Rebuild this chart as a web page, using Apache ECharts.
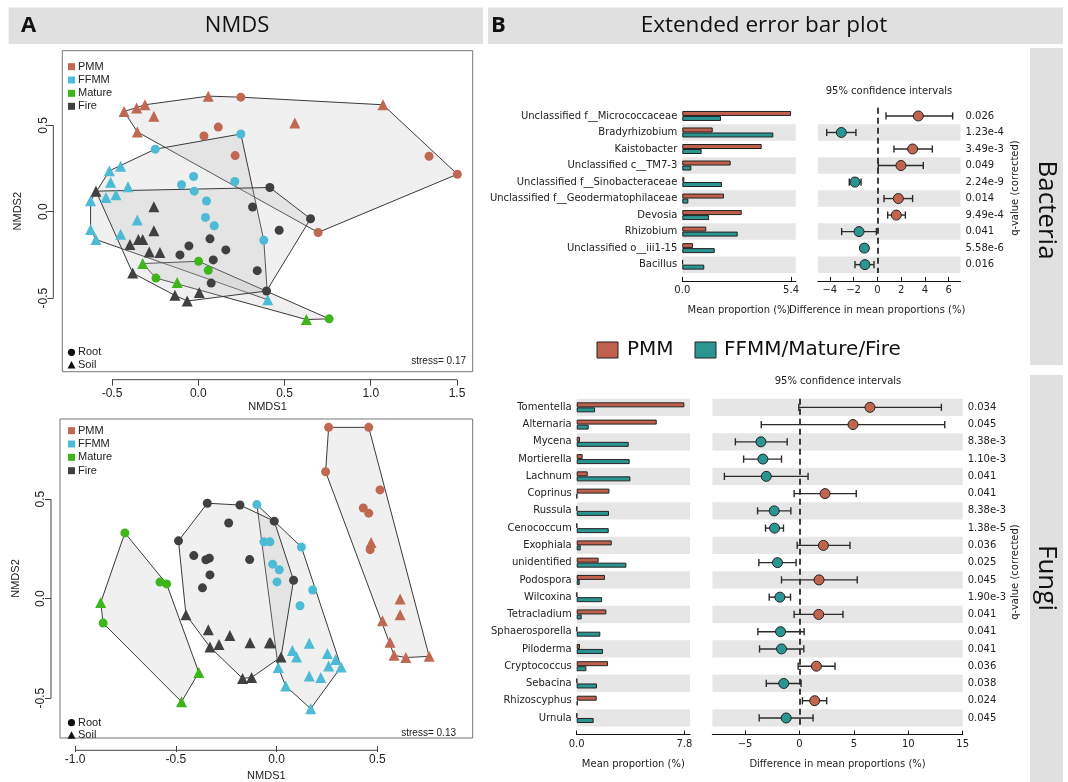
<!DOCTYPE html>
<html><head><meta charset="utf-8">
<script src="https://cdn.jsdelivr.net/npm/echarts@6/dist/echarts.min.js"></script>
<style>html,body{margin:0;padding:0;background:#fff}#c{width:1068px;height:782px}</style>
</head><body><div id="c"></div>
<script>
// ---------- NMDS data (top: bacteria, bottom: fungi) ----------
const topPMMRoot = [[0.247,0.663],[0.116,0.49],[0.033,0.438],[0.214,0.325],[1.338,0.321],[1.502,0.217],[0.695,-0.12]];
const topPMMSoil = [[-0.43,0.58],[-0.357,0.60],[-0.309,0.619],[-0.257,0.552],[-0.353,0.462],[0.058,0.669],[1.071,0.619],[0.56,0.513]];
const topFFMMRoot = [[0.247,0.45],[-0.249,0.362],[-0.027,0.204],[-0.097,0.156],[-0.023,0.119],[0.212,0.175],[0.048,0.062],[0.042,-0.033],[0.093,-0.081],[0.38,-0.165]];
const topFFMMSoil = [[-0.515,0.237],[-0.45,0.263],[-0.508,0.171],[-0.407,0.144],[-0.535,0.083],[-0.477,0.098],[-0.624,0.063],[-0.624,-0.103],[-0.353,-0.048],[-0.45,-0.13],[-0.593,-0.161],[0.403,-0.51]];
const topMatureRoot = [[0.002,-0.287],[0.058,-0.339],[-0.245,-0.384],[0.759,-0.62]];
const topMatureSoil = [[-0.322,-0.3],[-0.122,-0.409],[0.627,-0.624]];
const topFireRoot = [[0.415,0.14],[0.315,0.027],[0.651,-0.041],[0.469,-0.107],[0.068,-0.157],[-0.054,-0.198],[-0.106,-0.25],[0.16,-0.221],[0.087,-0.279],[0.342,-0.341],[0.075,-0.413],[0.396,-0.459]];
const topFireSoil = [[-0.593,0.119],[-0.257,0.029],[-0.257,-0.11],[-0.347,-0.161],[-0.322,-0.161],[-0.396,-0.19],[-0.284,-0.233],[-0.222,-0.236],[-0.38,-0.355],[-0.135,-0.484],[-0.064,-0.517],[0.006,-0.467]];

const botPMMRoot = [[0.258,0.86],[0.457,0.86],[0.243,0.637],[0.513,0.546],[0.43,0.455],[0.457,0.429],[0.464,0.246]];
const botPMMSoil = [[0.469,0.282],[0.613,-0.002],[0.613,-0.081],[0.525,-0.111],[0.563,-0.219],[0.583,-0.285],[0.641,-0.296],[0.757,-0.29]];
const botFFMMRoot = [[-0.098,0.472],[-0.063,0.285],[-0.033,0.285],[0.123,0.259],[-0.02,0.173],[0.013,0.145],[0.002,0.084],[0.179,0.043],[0.116,-0.036]];
const botFFMMSoil = [[0.078,-0.26],[0.099,-0.293],[0.162,-0.224],[0.252,-0.276],[0.293,-0.306],[0.32,-0.343],[0.258,-0.339],[0.162,-0.389],[0.219,-0.396],[0.008,-0.346],[0.045,-0.439],[0.169,-0.553]];
const botMatureRoot = [[-0.753,0.33],[-0.579,0.083],[-0.546,0.074],[-0.861,-0.123]];
const botMatureSoil = [[-0.873,-0.02],[-0.386,-0.371],[-0.472,-0.518]];
const botFireRoot = [[-0.344,0.479],[-0.182,0.47],[-0.012,0.389],[-0.238,0.38],[-0.487,0.29],[-0.411,0.216],[-0.351,0.195],[-0.334,0.203],[-0.134,0.196],[-0.331,0.119],[-0.368,0.054],[0.084,0.092]];
const botFireSoil = [[-0.45,-0.081],[-0.339,-0.156],[-0.331,-0.243],[-0.286,-0.23],[-0.232,-0.185],[-0.132,-0.222],[-0.036,-0.222],[-0.03,-0.222],[0.022,-0.293],[-0.169,-0.401],[-0.124,-0.396]];

const nmdsXTicksTop = [-0.5,0,0.5,1,1.5];
const nmdsXTicksBot = [-1,-0.5,0,0.5];
const nmdsYTicks = [-0.5,0,0.5];

// ---------- Extended error bar data ----------
const bacTaxa = ['Unclassified f__Micrococcaceae','Bradyrhizobium','Kaistobacter','Unclassified c__TM7-3','Unclassified f__Sinobacteraceae','Unclassified f__Geodermatophilaceae','Devosia','Rhizobium','Unclassified o__iii1-15','Bacillus'];
const bacPMM   = [5.4,1.51,3.94,2.40,0.10,2.07,2.95,1.19,0.53,0.03];
const bacOther = [1.92,4.52,0.96,0.45,1.97,0.30,1.33,2.75,1.61,1.09];
const bacDiff  = [3.45,-3.03,2.97,1.99,-1.88,1.77,1.60,-1.54,-1.09,-1.04];
const bacLo    = [0.73,-4.26,1.40,0.08,-2.36,0.56,0.87,-3.00,-1.37,-1.88];
const bacHi    = [6.34,-1.80,4.63,3.87,-1.37,2.97,2.36,-0.08,-0.81,-0.28];
const bacQ     = ['0.026','1.23e-4','3.49e-3','0.049','2.24e-9','0.014','9.49e-4','0.041','5.58e-6','0.016'];
const bacBarTicks = [0,5.4];
const bacErrTicks = [-4,-2,0,2,4,6];

const funTaxa = ['Tomentella','Alternaria','Mycena','Mortierella','Lachnum','Coprinus','Russula','Cenococcum','Exophiala','unidentified','Podospora','Wilcoxina','Tetracladium','Sphaerosporella','Piloderma','Cryptococcus','Sebacina','Rhizoscyphus','Urnula'];
const funPMM   = [7.8,5.8,0.24,0.43,0.80,2.37,0.02,0.02,2.54,1.59,2.05,0.02,2.15,0.02,0.24,2.27,0.02,1.45,0.02];
const funOther = [1.33,0.87,3.77,3.84,3.89,0.02,2.34,2.32,0.29,3.60,0.22,1.84,0.36,1.71,1.91,0.70,1.47,0.07,1.23];
const funDiff  = [6.48,4.92,-3.54,-3.36,-3.05,2.35,-2.32,-2.29,2.20,-2.02,1.80,-1.80,1.77,-1.74,-1.65,1.56,-1.44,1.40,-1.22];
const funLo    = [-0.06,-3.51,-5.89,-5.13,-6.90,-0.49,-3.85,-3.12,-0.21,-3.73,-1.65,-2.78,-0.49,-3.82,-3.67,-0.12,-3.05,0.27,-3.70];
const funHi    = [13.04,13.35,-1.13,-1.65,0.79,5.22,-0.79,-1.47,4.64,-0.31,5.31,-0.82,4.00,0.43,0.40,3.27,0.15,2.50,1.25];
const funQ     = ['0.034','0.045','8.38e-3','1.10e-3','0.041','0.041','8.38e-3','1.38e-5','0.036','0.025','0.045','1.90e-3','0.041','0.041','0.041','0.036','0.038','0.024','0.045'];
const funBarTicks = [0,7.8];
const funErrTicks = [-5,0,5,10,15];

// ---------- styling ----------
const C = {PMM:'#BF6852', FFMM:'#4DBAD6', Mature:'#3DB51B', Fire:'#404040'};
const BAR_BROWN = '#C0614E', BAR_TEAL = '#2A9591';
const MPL = 'DejaVu Sans', RF = 'Liberation Sans', HF = 'Open Sans';

function convexHull(pts){
  const p = pts.slice().sort((a,b)=>a[0]-b[0]||a[1]-b[1]);
  const cross=(o,a,b)=>(a[0]-o[0])*(b[1]-o[1])-(a[1]-o[1])*(b[0]-o[0]);
  const lo=[],up=[];
  for(const q of p){while(lo.length>=2&&cross(lo[lo.length-2],lo[lo.length-1],q)<=0)lo.pop();lo.push(q);}
  for(let i=p.length-1;i>=0;i--){const q=p[i];while(up.length>=2&&cross(up[up.length-2],up[up.length-1],q)<=0)up.pop();up.push(q);}
  up.pop();lo.pop();return lo.concat(up);
}
function hullSeries(pts, ai){
  const h = convexHull(pts);
  return {type:'custom', xAxisIndex:ai, yAxisIndex:ai, silent:true, z:1, data:[h[0].slice()],
    renderItem:(params, api)=>({type:'polygon', shape:{points:h.map(q=>api.coord(q))},
      style:{fill:'rgba(190,190,190,0.23)', stroke:'#3a3a3a', lineWidth:1}})};
}
function ptSeries(pts, ai, color, sym){
  return {type:'scatter', xAxisIndex:ai, yAxisIndex:ai, data:pts, symbol:sym, symbolSize: sym==='triangle'?11:9,
    itemStyle:{color:color, opacity:1}, z:5, silent:true};
}
const groups = ['PMM','FFMM','Mature','Fire'];
const topSets = {PMM:[topPMMRoot,topPMMSoil], FFMM:[topFFMMRoot,topFFMMSoil], Mature:[topMatureRoot,topMatureSoil], Fire:[topFireRoot,topFireSoil]};
const botSets = {PMM:[botPMMRoot,botPMMSoil], FFMM:[botFFMMRoot,botFFMMSoil], Mature:[botMatureRoot,botMatureSoil], Fire:[botFireRoot,botFireSoil]};

const series = [];
[[topSets,0],[botSets,1]].forEach(([sets,ai])=>{
  groups.forEach(g=>series.push(hullSeries(sets[g][0].concat(sets[g][1]), ai)));
  groups.forEach(g=>{
    series.push(ptSeries(sets[g][0], ai, C[g], 'circle'));
    series.push(ptSeries(sets[g][1], ai, C[g], 'triangle'));
  });
});

// data item: [lo, rowIndex, hi]
function errRender(params, api){
  const r = api.value(1);
  const a = api.coord([api.value(0), r]), b = api.coord([api.value(2), r]);
  const h = 3.6, st = {stroke:'#2b2b2b', lineWidth:1.4};
  return {type:'group', children:[
    {type:'line', shape:{x1:a[0],y1:a[1],x2:b[0],y2:b[1]}, style:st},
    {type:'line', shape:{x1:a[0],y1:a[1]-h,x2:a[0],y2:a[1]+h}, style:st},
    {type:'line', shape:{x1:b[0],y1:b[1]-h,x2:b[0],y2:b[1]+h}, style:st}
  ]};
}
function addEBP(taxa, pmm, other, diff, lo, hi, barAi, errAi){
  series.push({type:'bar', xAxisIndex:barAi, yAxisIndex:barAi, data:pmm, barWidth:5, barGap:'0%', silent:true,
    itemStyle:{color:BAR_BROWN, borderColor:'#222', borderWidth:1}});
  series.push({type:'bar', xAxisIndex:barAi, yAxisIndex:barAi, data:other, barWidth:5, barGap:'0%', silent:true,
    itemStyle:{color:BAR_TEAL, borderColor:'#222', borderWidth:1}});
  series.push({type:'custom', xAxisIndex:errAi, yAxisIndex:errAi, silent:true, z:3,
    data: lo.map((v,i)=>[v, i, hi[i]]), renderItem: errRender});
  series.push({type:'scatter', xAxisIndex:errAi, yAxisIndex:errAi, silent:true, z:6,
    data: diff.map((d,i)=>({value:[d,i], itemStyle:{color: d>0?'#C2654F':'#2A9591'}})), symbolSize:10,
    itemStyle:{borderColor:'#222', borderWidth:1, opacity:1},
    markLine:{symbol:'none', silent:true, label:{show:false}, data:[{xAxis:0}], z:2,
      lineStyle:{type:[6,4], color:'#000', width:1.5}}});
}
addEBP(bacTaxa, bacPMM, bacOther, bacDiff, bacLo, bacHi, 2, 3);
addEBP(funTaxa, funPMM, funOther, funDiff, funLo, funHi, 4, 5);

// ---------- grids ----------
const G = [
  {left:62.3, top:50.7, width:410.4, height:321},   // top NMDS
  {left:60,   top:419,  width:412.7, height:323.3}, // bottom NMDS
  {left:682.3,top:107.7,width:113.4, height:165.2}, // bacteria bars
  {left:817.9,top:107.7,width:142.6, height:165.2}, // bacteria diff
  {left:576.7,top:398.7,width:113.3, height:327.9}, // fungi bars
  {left:712.4,top:398.7,width:250.3, height:327.9}  // fungi diff
];
const grid = G.map((g,i)=>Object.assign({containLabel:false, show:i<2, borderColor:'#777', borderWidth:1, backgroundColor:'rgba(0,0,0,0)'}, g));

const rTxt = {color:'#222', fontFamily:RF, fontSize:12};
const mTxt = {color:'#222', fontFamily:MPL, fontSize:10};
function nmdsX(gi, min, max, ticks, gap){
  return {gridIndex:gi, type:'value', min:min, max:max, offset:8, axisLine:{show:false, onZero:false}, splitLine:{show:false},
    axisTick:{show:true, customValues:ticks, length:6, lineStyle:{color:'#444'}},
    axisLabel:Object.assign({customValues:ticks, formatter:v=>v.toFixed(1), margin:8}, rTxt),
    name:'NMDS1', nameLocation:'middle', nameGap:gap, nameTextStyle:{color:'#222', fontFamily:RF, fontSize:11}};
}
function nmdsY(gi, min, max){
  return {gridIndex:gi, type:'value', min:min, max:max, offset:9, axisLine:{show:false, onZero:false}, splitLine:{show:false},
    axisTick:{show:true, customValues:nmdsYTicks, length:6, lineStyle:{color:'#444'}},
    axisLabel:Object.assign({customValues:nmdsYTicks, formatter:v=>v.toFixed(1), rotate:90, margin:4}, rTxt),
    name:'NMDS2', nameLocation:'middle', nameGap:30, nameTextStyle:{color:'#222', fontFamily:RF, fontSize:11}};
}
function mplX(gi, min, max, ticks, fmt, name, pad){
  return {gridIndex:gi, type:'value', min:min, max:max, offset:8,
    axisLine:{show:true, onZero:false, lineStyle:{color:'#111', width:1.2}}, splitLine:{show:false},
    axisTick:{show:true, inside:true, customValues:ticks, length:4, lineStyle:{color:'#111'}},
    axisLabel:Object.assign({customValues:ticks, formatter:fmt, margin:5}, mTxt),
    name:name, nameLocation:'middle', nameGap:25, nameTextStyle:Object.assign({padding:pad||0}, mTxt)};
}
const minus = v => (v<0?'\u2212':'') + Math.abs(v);
function catY(gi, taxa, bandColors, right, q){
  return {gridIndex:gi, type:'category', data:taxa, inverse:true, position: right?'right':'left',
    axisLine:{show:false, onZero:false}, axisTick:{show:false, interval:0},
    axisLabel:Object.assign({interval:0, margin:5, formatter: q ? ((v,i)=>q[i]) : (v=>v)}, mTxt),
    splitArea:{show:true, interval:0, areaStyle:{color:bandColors}}, splitLine:{show:false}};
}
const xAxis = [
  nmdsX(0, -0.788, 1.591, nmdsXTicksTop, 22),
  nmdsX(1, -1.075, 0.973, nmdsXTicksBot, 24),
  mplX(2, 0, 5.63, bacBarTicks, v=>v.toFixed(1), 'Mean proportion (%)'),
  mplX(3, -5, 7, bacErrTicks, minus, 'Difference in mean proportions (%)', [0,24,0,0]),
  mplX(4, 0, 8.21, funBarTicks, v=>v.toFixed(1), 'Mean proportion (%)'),
  mplX(5, -8, 15, funErrTicks, minus, 'Difference in mean proportions (%)')
];
const T = 'rgba(0,0,0,0)', B = '#e6e6e6';
const yAxis = [
  nmdsY(0, -0.926, 0.932),
  nmdsY(1, -0.7, 0.902),
  catY(2, bacTaxa, [T,B], false),
  catY(3, bacTaxa, [T,B], true, bacQ),
  catY(4, funTaxa, [B,T], false),
  catY(5, funTaxa, [B,T], true, funQ)
];

// ---------- decorations ----------
const graphic = [];
const HG = '#e0e0e0';
graphic.push({type:'rect', shape:{x:8.6,y:7.6,width:474.4,height:36.4}, style:{fill:HG}, silent:true});
graphic.push({type:'rect', shape:{x:488,y:7.6,width:575,height:36.4}, style:{fill:HG}, silent:true});
graphic.push({type:'text', x:21, y:26, style:{text:'A', fontFamily:HF, fontWeight:'bold', fontSize:22, fill:'#111', verticalAlign:'middle'}});
graphic.push({type:'text', x:237, y:26, style:{text:'NMDS', fontFamily:HF, fontSize:22, fill:'#111', align:'center', verticalAlign:'middle'}});
graphic.push({type:'text', x:491, y:26, style:{text:'B', fontFamily:HF, fontWeight:'bold', fontSize:22, fill:'#111', verticalAlign:'middle'}});
graphic.push({type:'text', x:764, y:26, style:{text:'Extended error bar plot', fontFamily:HF, fontSize:22.5, fill:'#111', align:'center', verticalAlign:'middle'}});
// side strips
graphic.push({type:'rect', shape:{x:1030,y:48,width:33,height:317}, style:{fill:HG}, silent:true});
graphic.push({type:'rect', shape:{x:1030,y:375,width:33,height:407}, style:{fill:HG}, silent:true});
graphic.push({type:'text', x:1046, y:210, rotation:-Math.PI/2, style:{text:'Bacteria', fontFamily:HF, fontSize:26, fill:'#111', align:'center', verticalAlign:'middle'}});
graphic.push({type:'text', x:1046, y:578, rotation:-Math.PI/2, style:{text:'Fungi', fontFamily:HF, fontSize:26, fill:'#111', align:'center', verticalAlign:'middle'}});
// q-value titles & CI titles
graphic.push({type:'text', x:1015, y:188, rotation:Math.PI/2, style:{text:'q-value (corrected)', fontFamily:MPL, fontSize:10, fill:'#222', align:'center', verticalAlign:'middle'}});
graphic.push({type:'text', x:1015, y:572, rotation:Math.PI/2, style:{text:'q-value (corrected)', fontFamily:MPL, fontSize:10, fill:'#222', align:'center', verticalAlign:'middle'}});
graphic.push({type:'text', x:889, y:91, style:{text:'95% confidence intervals', fontFamily:MPL, fontSize:10, fill:'#222', align:'center', verticalAlign:'middle'}});
graphic.push({type:'text', x:838, y:381, style:{text:'95% confidence intervals', fontFamily:MPL, fontSize:10, fill:'#222', align:'center', verticalAlign:'middle'}});
// middle legend
graphic.push({type:'rect', shape:{x:597,y:342,width:21,height:16}, style:{fill:BAR_BROWN, stroke:'#222', lineWidth:1}});
graphic.push({type:'text', x:627, y:350, style:{text:'PMM', fontFamily:MPL, fontSize:20, fill:'#111', verticalAlign:'middle'}});
graphic.push({type:'rect', shape:{x:695,y:342,width:21,height:16}, style:{fill:BAR_TEAL, stroke:'#222', lineWidth:1}});
graphic.push({type:'text', x:724, y:350, style:{text:'FFMM/Mature/Fire', fontFamily:MPL, fontSize:20, fill:'#111', verticalAlign:'middle'}});
// NMDS legends
function nmdsLegend(x, ys, rootY, soilY, stressX, stressY, stress){
  groups.forEach((g,i)=>{
    graphic.push({type:'rect', shape:{x:x, y:ys[i]-3.5, width:7, height:7}, style:{fill:C[g]}});
    graphic.push({type:'text', x:x+10, y:ys[i], style:{text:g, fontFamily:RF, fontSize:11, fill:'#222', verticalAlign:'middle'}});
  });
  graphic.push({type:'circle', shape:{cx:x+3.5, cy:rootY, r:3.6}, style:{fill:'#111'}});
  graphic.push({type:'text', x:x+10, y:rootY, style:{text:'Root', fontFamily:RF, fontSize:11, fill:'#222', verticalAlign:'middle'}});
  graphic.push({type:'polygon', shape:{points:[[x-0.5,soilY+3.5],[x+7.5,soilY+3.5],[x+3.5,soilY-4]]}, style:{fill:'#111'}});
  graphic.push({type:'text', x:x+10, y:soilY, style:{text:'Soil', fontFamily:RF, fontSize:11, fill:'#222', verticalAlign:'middle'}});
  graphic.push({type:'text', x:stressX, y:stressY, style:{text:'stress= '+stress, fontFamily:RF, fontSize:10, fill:'#222', align:'right', verticalAlign:'middle'}});
}
nmdsLegend(68, [66.7,80,93.3,106.3], 352.3, 365, 466, 361.7, '0.17');
nmdsLegend(68, [430.7,444,457.3,470.7], 722.7, 735.3, 456, 733.3, '0.13');

const chart = echarts.init(document.getElementById('c'), null, {renderer:'canvas'});
chart.setOption({animation:false, backgroundColor:'#fff', grid, xAxis, yAxis, series, graphic});

// R-style axis lines spanning only the outer ticks
const extra = [];
[[0, nmdsXTicksTop],[1, nmdsXTicksBot]].forEach(([i,ticks])=>{
  const x1 = chart.convertToPixel({xAxisIndex:i}, ticks[0]);
  const x2 = chart.convertToPixel({xAxisIndex:i}, ticks[ticks.length-1]);
  const y = G[i].top + G[i].height + 8;
  extra.push({type:'line', shape:{x1:x1,y1:y,x2:x2,y2:y}, style:{stroke:'#444', lineWidth:1}});
  const ya = chart.convertToPixel({yAxisIndex:i}, nmdsYTicks[0]);
  const yb = chart.convertToPixel({yAxisIndex:i}, nmdsYTicks[nmdsYTicks.length-1]);
  const x = G[i].left - 9;
  extra.push({type:'line', shape:{x1:x,y1:ya,x2:x,y2:yb}, style:{stroke:'#444', lineWidth:1}});
});
chart.setOption({graphic: graphic.concat(extra)});
</script></body></html>
